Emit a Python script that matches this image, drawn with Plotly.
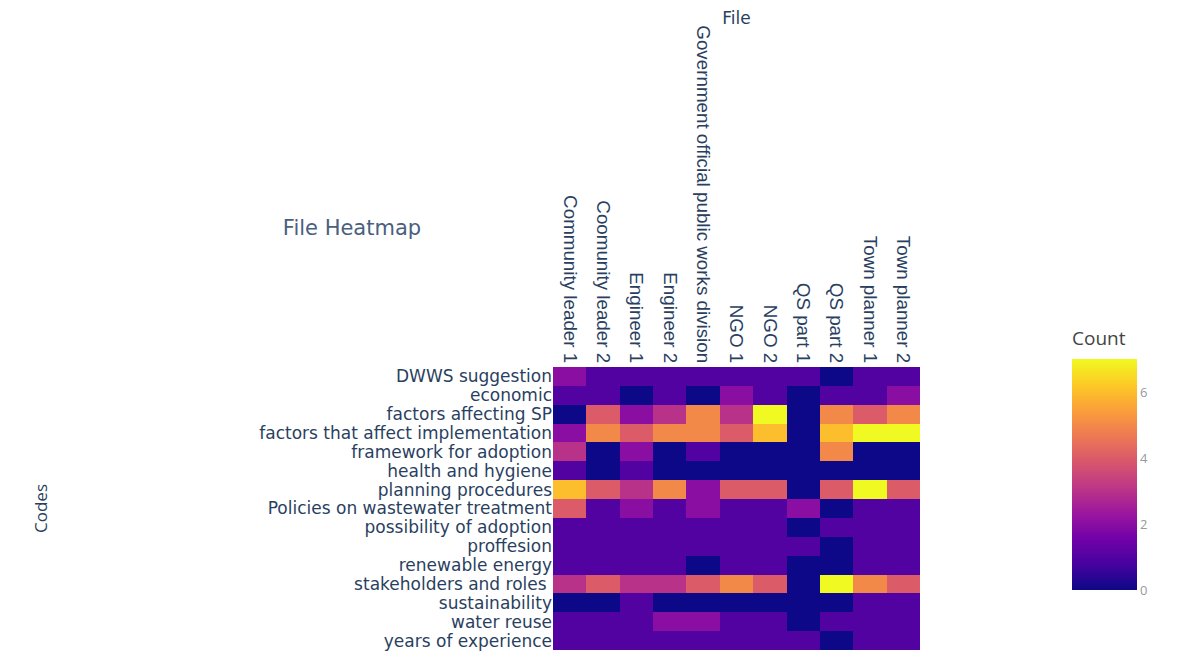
import plotly.graph_objects as go

files = ["Community leader 1", "Coomunity leader 2", "Engineer 1", "Engineer 2",
         "Government official public works division", "NGO 1", "NGO 2",
         "QS part 1", "QS part 2", "Town planner 1", "Town planner 2"]

codes = ["DWWS suggestion", "economic", "factors affecting SP",
         "factors that affect implementation", "framework for adoption",
         "health and hygiene", "planning procedures",
         "Policies on wastewater treatment", "possibility of adoption",
         "proffesion", "renewable energy", "stakeholders and roles ",
         "sustainability", "water reuse", "years of experience"]

dwws_suggestion = [2, 1, 1, 1, 1, 1, 1, 1, 0, 1, 1]
economic = [1, 1, 0, 1, 0, 2, 1, 0, 1, 1, 2]
factors_affecting_sp = [0, 4, 2, 3, 5, 3, 7, 0, 5, 4, 5]
factors_implementation = [2, 5, 4, 5, 5, 4, 6, 0, 6, 7, 7]
framework_for_adoption = [3, 0, 2, 0, 1, 0, 0, 0, 5, 0, 0]
health_and_hygiene = [1, 0, 1, 0, 0, 0, 0, 0, 0, 0, 0]
planning_procedures = [6, 4, 3, 5, 2, 4, 4, 0, 4, 7, 4]
policies_wastewater = [4, 1, 2, 1, 2, 1, 1, 2, 0, 1, 1]
possibility_of_adoption = [1, 1, 1, 1, 1, 1, 1, 0, 1, 1, 1]
proffesion = [1, 1, 1, 1, 1, 1, 1, 1, 0, 1, 1]
renewable_energy = [1, 1, 1, 1, 0, 1, 1, 0, 0, 1, 1]
stakeholders_and_roles = [3, 4, 3, 3, 4, 5, 4, 0, 7, 5, 4]
sustainability = [0, 0, 1, 0, 0, 0, 0, 0, 0, 1, 1]
water_reuse = [1, 1, 1, 2, 2, 1, 1, 0, 1, 1, 1]
years_of_experience = [1, 1, 1, 1, 1, 1, 1, 1, 0, 1, 1]

z = [dwws_suggestion, economic, factors_affecting_sp, factors_implementation,
     framework_for_adoption, health_and_hygiene, planning_procedures,
     policies_wastewater, possibility_of_adoption, proffesion, renewable_energy,
     stakeholders_and_roles, sustainability, water_reuse, years_of_experience]

colorbar_ticks = [0, 2, 4, 6]

# the page body adds an 8 px offset, so work in shifted coordinates
OFF = 8
W, H = 1192 - 2 * OFF, 659 - 2 * OFF
L, R, T, B = 553 - OFF, 920 - OFF, 367 - OFF, 650 - OFF
pw, ph = R - L, B - T

fig = go.Figure(go.Heatmap(
    z=z, x=files, y=codes,
    colorscale="Plasma", zmin=0, zmax=7,
    colorbar=dict(
        title=dict(text="Count", font=dict(size=19, color="#444")),
        thickness=65, lenmode="pixels", len=282,
        x=(1062 - OFF - L) / pw, xanchor="left",
        y=(B - (459 - OFF)) / ph, yanchor="middle",
        tickvals=colorbar_ticks,
        tickfont=dict(size=13, color="#999"),
        outlinewidth=0,
    ),
))

fig.update_layout(
    width=W, height=H,
    margin=dict(l=L, r=W - R, t=T, b=H - B, autoexpand=False),
    paper_bgcolor="white", plot_bgcolor="white",
    font=dict(family="Open Sans, Arial, sans-serif", color="#2a3f5f"),
    title=dict(text="File Heatmap", xref="container", yref="container",
               x=(352 - OFF) / W, xanchor="center", y=1 - (228 - OFF) / H, yanchor="middle",
               font=dict(family="DejaVu Sans", size=21, color="#4a6080")),
    xaxis=dict(side="top", tickangle=90, automargin=False,
               tickmode="linear", tick0=0, dtick=1,
               tickfont=dict(family="Liberation Sans, Arial", size=18.8, color="#2a3f5f"),
               title=dict(text="File", font=dict(family="DejaVu Sans", size=17, color="#2a3f5f"), standoff=0),
               showgrid=False, ticks=""),
    yaxis=dict(autorange="reversed", automargin=False,
               tickmode="linear", tick0=0, dtick=1,
               tickfont=dict(family="DejaVu Sans", size=17, color="#2a3f5f"),
               title=dict(text="Codes", font=dict(size=17, color="#2a3f5f"), standoff=207),
               showgrid=False, ticks=""),
)

fig.write_html("out.html")
